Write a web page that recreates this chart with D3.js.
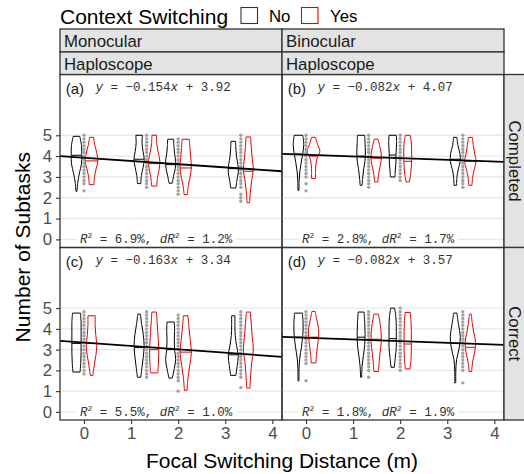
<!DOCTYPE html>
<html>
<head>
<meta charset="utf-8">
<script src="https://cdn.jsdelivr.net/npm/d3@7"></script>
<style>
  body { margin: 0; background: #fff; }
  svg { display: block; }
</style>
</head>
<body>
<svg id="chart" width="524" height="474" font-family="'Liberation Sans', Arial, sans-serif"></svg>
<script>
// ---- data ----
const distances = [0, 1.33, 2, 3.33];
const xTicks = [0, 1, 2, 3, 4];
const yTicks = [0, 1, 2, 3, 4, 5];
const panelTags = ["(a)", "(b)", "(c)", "(d)"];
const colLabels = ["Monocular", "Binocular"];
const displayLabels = ["Haploscope", "Haploscope"];
const rowLabels = ["Completed", "Correct"];
const slopes = [-0.154, -0.082, -0.163, -0.082];
const intercepts = [3.92, 4.07, 3.34, 3.57];
const r2 = ["6.9", "2.8", "5.5", "1.8"];
const dr2 = ["1.2", "1.7", "1.0", "1.9"];

// violins: [min, max, median, relative widths from max down to min]
const vioA_no = [
  [2.31, 4.95, 4.04, [0.5, 0.76, 0.8, 0.76, 0.45, 0.2, 0.08]],
  [2.68, 5.0, 3.85, [0.5, 0.45, 0.6, 0.78, 0.6, 0.35, 0.25]],
  [2.7, 4.81, 3.59, [0.45, 0.5, 0.6, 0.76, 0.7, 0.45, 0.25]],
  [2.47, 4.71, 3.4, [0.35, 0.4, 0.5, 0.7, 0.76, 0.55, 0.4]]
];
const vioA_yes = [
  [2.63, 4.9, 3.77, [0.3, 0.5, 0.8, 0.96, 0.7, 0.45, 0.35]],
  [2.56, 5.0, 3.64, [0.35, 0.4, 0.6, 0.86, 0.76, 0.5, 0.4]],
  [2.15, 4.81, 3.43, [0.55, 0.65, 0.76, 0.86, 0.7, 0.4, 0.25]],
  [1.76, 4.92, 3.27, [0.35, 0.45, 0.6, 0.76, 0.5, 0.3, 0.2]]
];
const vioB_no = [
  [2.36, 5.0, 4.1, [0.65, 0.8, 0.65, 0.4, 0.2, 0.1, 0.08]],
  [2.6, 5.0, 4.0, [0.55, 0.6, 0.65, 0.6, 0.4, 0.25, 0.15]],
  [3.0, 5.0, 4.05, [0.55, 0.6, 0.55, 0.5, 0.5, 0.4, 0.35]],
  [2.6, 4.9, 3.85, [0.25, 0.4, 0.7, 0.76, 0.45, 0.25, 0.2]]
];
const vioB_yes = [
  [2.92, 4.9, 4.0, [0.3, 0.6, 0.96, 0.55, 0.35, 0.3, 0.3]],
  [2.76, 4.81, 3.9, [0.3, 0.55, 0.76, 0.76, 0.55, 0.35, 0.25]],
  [2.76, 5.0, 3.75, [0.35, 0.55, 0.6, 0.6, 0.55, 0.45, 0.25]],
  [2.6, 4.9, 3.75, [0.3, 0.45, 0.65, 0.86, 0.6, 0.35, 0.25]]
];
const vioC_no = [
  [1.92, 4.76, 3.3, [0.6, 0.7, 0.7, 0.7, 0.7, 0.65, 0.55]],
  [1.67, 4.71, 3.1, [0.2, 0.4, 0.65, 0.76, 0.65, 0.45, 0.25]],
  [1.63, 4.33, 3.0, [0.55, 0.6, 0.55, 0.6, 0.76, 0.55, 0.25]],
  [1.76, 4.63, 2.75, [0.25, 0.25, 0.3, 0.5, 0.76, 0.6, 0.4]]
];
const vioC_yes = [
  [1.76, 4.63, 3.3, [0.55, 0.55, 0.65, 0.8, 0.65, 0.4, 0.2]],
  [1.88, 4.81, 3.0, [0.35, 0.45, 0.55, 0.65, 0.7, 0.65, 0.55]],
  [1.04, 4.63, 2.88, [0.35, 0.5, 0.7, 0.86, 0.6, 0.35, 0.2]],
  [1.15, 4.81, 2.76, [0.3, 0.45, 0.6, 0.76, 0.5, 0.35, 0.25]]
];
const vioD_no = [
  [1.5, 4.76, 3.6, [0.6, 0.7, 0.65, 0.45, 0.2, 0.08, 0.08]],
  [1.67, 4.81, 3.6, [0.45, 0.55, 0.6, 0.55, 0.35, 0.15, 0.08]],
  [2.15, 5.0, 3.53, [0.3, 0.5, 0.55, 0.55, 0.55, 0.4, 0.25]],
  [1.4, 4.76, 3.3, [0.25, 0.5, 0.76, 0.6, 0.2, 0.08, 0.08]]
];
const vioD_yes = [
  [2.36, 4.84, 3.6, [0.25, 0.5, 0.76, 0.76, 0.6, 0.45, 0.35]],
  [1.95, 4.71, 3.5, [0.35, 0.6, 0.76, 0.76, 0.6, 0.45, 0.35]],
  [2.07, 4.79, 3.27, [0.4, 0.5, 0.55, 0.55, 0.55, 0.5, 0.35]],
  [1.95, 4.71, 3.11, [0.15, 0.3, 0.55, 0.8, 0.65, 0.35, 0.2]]
];

// grey points between each pair of violins
const dotsA = [
  [5, 4.83, 4.67, 4.5, 4.33, 4.17, 4, 3.83, 3.67, 3.5, 3.33, 3.17, 3, 2.83, 2.67, 2.33],
  [5, 4.83, 4.67, 4.5, 4.33, 4.17, 4, 3.83, 3.67, 3.5, 3.33, 3.17, 3, 2.83, 2.67, 2.5],
  [4.83, 4.67, 4.5, 4.33, 4.17, 4, 3.83, 3.67, 3.5, 3.33, 3.17, 3, 2.83, 2.67, 2.5, 2.33, 2.17],
  [5, 4.83, 4.67, 4.5, 4.33, 4.17, 4, 3.83, 3.67, 3.5, 3.33, 3.17, 3, 2.83, 2.67, 2.5, 2.17, 2, 1.83]
];
const dotsB = [
  [5, 4.83, 4.67, 4.5, 4.33, 4.17, 4, 3.83, 3.67, 3.5, 3.33, 3.17, 3, 2.67, 2.33],
  [5, 4.83, 4.67, 4.5, 4.33, 4.17, 4, 3.83, 3.67, 3.5, 3.33, 3.17, 3, 2.83, 2.67, 2.5],
  [5, 4.83, 4.67, 4.5, 4.33, 4.17, 4, 3.83, 3.67, 3.5, 3.33, 3.17, 3, 2.83],
  [5, 4.83, 4.67, 4.5, 4.33, 4.17, 4, 3.83, 3.67, 3.5, 3.33, 3.17, 3, 2.83, 2.67, 2.5]
];
const dotsC = [
  [4.83, 4.67, 4.5, 4.33, 4.17, 4, 3.83, 3.67, 3.5, 3.33, 3.17, 3, 2.83, 2.67, 2.5, 2.33, 2.17, 2, 1.83],
  [4.83, 4.67, 4.5, 4.33, 4.17, 4, 3.83, 3.67, 3.5, 3.33, 3.17, 3, 2.83, 2.67, 2.5, 2.33, 2.17, 2, 1.83, 1.67],
  [4.67, 4.5, 4.33, 4.17, 4, 3.83, 3.67, 3.5, 3.33, 3.17, 3, 2.83, 2.67, 2.5, 2.33, 2.17, 2, 1.83, 1.67, 1.5, 1],
  [4.83, 4.67, 4.5, 4.33, 4.17, 4, 3.83, 3.67, 3.5, 3.33, 3.17, 3, 2.83, 2.67, 2.5, 2.33, 2.17, 2, 1.83, 1.67, 1.17]
];
const dotsD = [
  [4.83, 4.67, 4.5, 4.33, 4.17, 4, 3.83, 3.67, 3.5, 3.33, 3.17, 3, 2.83, 2.67, 2.5, 2.33, 1.5],
  [4.83, 4.67, 4.5, 4.33, 4.17, 4, 3.83, 3.67, 3.5, 3.33, 3.17, 3, 2.83, 2.67, 2.5, 2.33, 2.17, 2, 1.67],
  [5, 4.83, 4.67, 4.5, 4.33, 4.17, 4, 3.83, 3.67, 3.5, 3.33, 3.17, 3, 2.83, 2.67, 2.5, 2.33, 2.17, 2],
  [4.83, 4.67, 4.5, 4.33, 4.17, 4, 3.83, 3.67, 3.5, 3.33, 3.17, 3, 2.83, 2.67, 2.5, 2.33, 2.17, 2, 1.4]
];

const violinsNo = [vioA_no, vioB_no, vioC_no, vioD_no];
const violinsYes = [vioA_yes, vioB_yes, vioC_yes, vioD_yes];
const dots = [dotsA, dotsB, dotsC, dotsD];

// ---- layout ----
const svg = d3.select("#chart");
const cols = [[60, 282], [282, 504]];
const rows = [[74.5, 247.5], [247.5, 420]];
const xDomain = [-0.51, 4.205];
const yDomain = [-0.39, 7.92];
const RED = "#e60000";
const MONO = "'Liberation Mono', 'DejaVu Sans Mono', monospace";
const dodge = 0.16;     // violins left / right of the distance
const maxHalf = 0.14;   // half width of a violin at relative width 1

function medianWidth(v) {
  const [lo, hi, med, w] = v;
  const t = (hi - med) / (hi - lo) * (w.length - 1);
  const i = Math.min(Math.floor(t), w.length - 2);
  return w[i] + (w[i + 1] - w[i]) * (t - i);
}

function drawViolin(g, x, y, cx, v, color) {
  const [lo, hi, med, w] = v;
  const pts = w.map((d, i) => [hi - i * (hi - lo) / (w.length - 1), d]);
  const area = d3.area()
    .curve(d3.curveCatmullRom)
    .y(d => y(d[0]))
    .x0(d => x(cx - d[1] * maxHalf))
    .x1(d => x(cx + d[1] * maxHalf));
  g.append("path")
    .attr("d", area(pts))
    .attr("fill", "none")
    .attr("stroke", color)
    .attr("stroke-width", 1);
  const mw = medianWidth(v) * maxHalf;
  g.append("line")
    .attr("x1", x(cx - mw)).attr("x2", x(cx + mw))
    .attr("y1", y(med)).attr("y2", y(med))
    .attr("stroke", color).attr("stroke-width", 1);
}

function drawPanel(p) {
  const r = Math.floor(p / 2), c = p % 2;
  const x = d3.scaleLinear().domain(xDomain).range(cols[c]);
  const y = d3.scaleLinear().domain(yDomain).range([rows[r][1], rows[r][0]]);

  svg.append("clipPath").attr("id", "clip" + p)
    .append("rect")
    .attr("x", cols[c][0]).attr("y", rows[r][0])
    .attr("width", cols[c][1] - cols[c][0]).attr("height", rows[r][1] - rows[r][0]);

  const g = svg.append("g").attr("clip-path", `url(#clip${p})`);

  // horizontal grid
  g.selectAll(".grid")
    .data(yTicks)
    .enter()
    .append("line")
    .attr("x1", cols[c][0]).attr("x2", cols[c][1])
    .attr("y1", d => y(d)).attr("y2", d => y(d))
    .attr("stroke", "#e8e8e8")
    .attr("stroke-width", 1.4);

  // violins, No on the left, Yes on the right
  distances.forEach((d, i) => {
    drawViolin(g, x, y, d - dodge, violinsNo[p][i], "#000");
    drawViolin(g, x, y, d + dodge, violinsYes[p][i], RED);
  });

  // the points
  distances.forEach((d, i) => {
    g.selectAll(".pt" + i)
      .data(dots[p][i])
      .enter()
      .append("circle")
      .attr("cx", x(d))
      .attr("cy", v => y(v))
      .attr("r", 1.7)
      .attr("fill", "#a3a3a3");
  });

  // fitted line across the whole panel
  g.append("line")
    .attr("x1", x(xDomain[0])).attr("x2", x(xDomain[1]))
    .attr("y1", y(intercepts[p] + slopes[p] * xDomain[0]))
    .attr("y2", y(intercepts[p] + slopes[p] * xDomain[1]))
    .attr("stroke", "#000")
    .attr("stroke-width", 1.8);

  // panel letter + equation
  g.append("text")
    .attr("x", x(-0.39)).attr("y", y(6.99))
    .attr("font-size", 15).attr("fill", "#1a1a1a")
    .text(panelTags[p]);

  const eq = g.append("text")
    .attr("x", x(1.68)).attr("y", y(7.13))
    .attr("text-anchor", "middle")
    .attr("font-family", MONO)
    .attr("font-size", 12.5).attr("fill", "#333");
  eq.append("tspan").attr("font-style", "italic").text("y");
  eq.append("tspan").text(" = \u2212" + Math.abs(slopes[p]).toFixed(3));
  eq.append("tspan").attr("font-style", "italic").text("x");
  eq.append("tspan").text(" + " + intercepts[p].toFixed(2));

  // R^2 label with white box
  const lab = g.append("g");
  const rt = lab.append("text")
    .attr("x", x(1.53)).attr("y", y(0) + 4)
    .attr("text-anchor", "middle")
    .attr("font-family", MONO)
    .attr("font-size", 12.5).attr("fill", "#333");
  rt.append("tspan").attr("font-style", "italic").text("R");
  rt.append("tspan").attr("font-size", 8).attr("dy", -5).text("2");
  rt.append("tspan").attr("dy", 5).text(` = ${r2[p]}%, `);
  rt.append("tspan").attr("font-style", "italic").text("dR");
  rt.append("tspan").attr("font-size", 8).attr("dy", -5).text("2");
  rt.append("tspan").attr("dy", 5).text(` = ${dr2[p]}%`);
  const bb = rt.node().getBBox();
  lab.insert("rect", "text")
    .attr("x", bb.x - 3).attr("y", bb.y - 1)
    .attr("width", bb.width + 6).attr("height", bb.height + 2)
    .attr("fill", "#fff");

  // border
  svg.append("rect")
    .attr("x", cols[c][0]).attr("y", rows[r][0])
    .attr("width", cols[c][1] - cols[c][0]).attr("height", rows[r][1] - rows[r][0])
    .attr("fill", "none").attr("stroke", "#333").attr("stroke-width", 1.3);

  // axes on the outer panels only
  if (c === 0) {
    const ax = svg.append("g")
      .attr("transform", `translate(${cols[c][0]},0)`)
      .call(d3.axisLeft(y).tickValues(yTicks).tickFormat(d3.format("d")).tickSize(4).tickPadding(4));
    styleAxis(ax);
  }
  if (r === 1) {
    const ax = svg.append("g")
      .attr("transform", `translate(0,${rows[r][1]})`)
      .call(d3.axisBottom(x).tickValues(xTicks).tickFormat(d3.format("d")).tickSize(4).tickPadding(3));
    styleAxis(ax);
  }
}

function styleAxis(ax) {
  ax.select(".domain").remove();
  ax.attr("font-family", null).attr("font-size", null);
  ax.selectAll(".tick line").attr("stroke", "#333").attr("stroke-width", 1.1);
  ax.selectAll(".tick text")
    .attr("font-size", 16.8)
    .attr("fill", "#4d4d4d");
}

[0, 1, 2, 3].forEach(drawPanel);

// ---- strips ----
const stripFill = "#e3e3e3";
colLabels.forEach((lab, c) => {
  [[29, 52, lab], [52, 74.5, displayLabels[c]]].forEach(s => {
    svg.append("rect")
      .attr("x", cols[c][0]).attr("y", s[0])
      .attr("width", cols[c][1] - cols[c][0]).attr("height", s[1] - s[0])
      .attr("fill", stripFill).attr("stroke", "#333").attr("stroke-width", 1.3);
    svg.append("text")
      .attr("x", cols[c][0] + 4).attr("y", s[1] - 5)
      .attr("font-size", 16.8).attr("fill", "#1a1a1a")
      .text(s[2]);
  });
});

rowLabels.forEach((lab, r) => {
  svg.append("rect")
    .attr("x", 504).attr("y", rows[r][0])
    .attr("width", 30).attr("height", rows[r][1] - rows[r][0])
    .attr("fill", stripFill).attr("stroke", "#333").attr("stroke-width", 1.3);
  svg.append("text")
    .attr("transform", `translate(514.5,${(rows[r][0] + rows[r][1]) / 2}) rotate(90)`)
    .attr("text-anchor", "middle")
    .attr("dominant-baseline", "central")
    .attr("font-size", 16.8).attr("fill", "#1a1a1a")
    .text(lab);
});

// ---- titles ----
svg.append("text")
  .attr("x", (cols[0][0] + cols[1][1]) / 2).attr("y", 468)
  .attr("text-anchor", "middle")
  .attr("font-size", 21).attr("fill", "#000")
  .text("Focal Switching Distance (m)");

svg.append("text")
  .attr("transform", `translate(30,${(rows[0][0] + rows[1][1]) / 2}) rotate(-90)`)
  .attr("text-anchor", "middle")
  .attr("font-size", 21).attr("fill", "#000")
  .text("Number of Subtasks");

// ---- legend ----
svg.append("text")
  .attr("x", 60).attr("y", 24)
  .attr("font-size", 21).attr("fill", "#000")
  .text("Context Switching");

const legendKeys = [["No", "#333", 241, 269], ["Yes", RED, 301.5, 330]];
legendKeys.forEach(k => {
  svg.append("rect")
    .attr("x", k[2]).attr("y", 7.5)
    .attr("width", 16.5).attr("height", 16)
    .attr("fill", "#fff").attr("stroke", k[1]).attr("stroke-width", 1.1);
  svg.append("text")
    .attr("x", k[3]).attr("y", 21.7)
    .attr("font-size", 16.8).attr("fill", "#000")
    .text(k[0]);
});
</script>
</body>
</html>
